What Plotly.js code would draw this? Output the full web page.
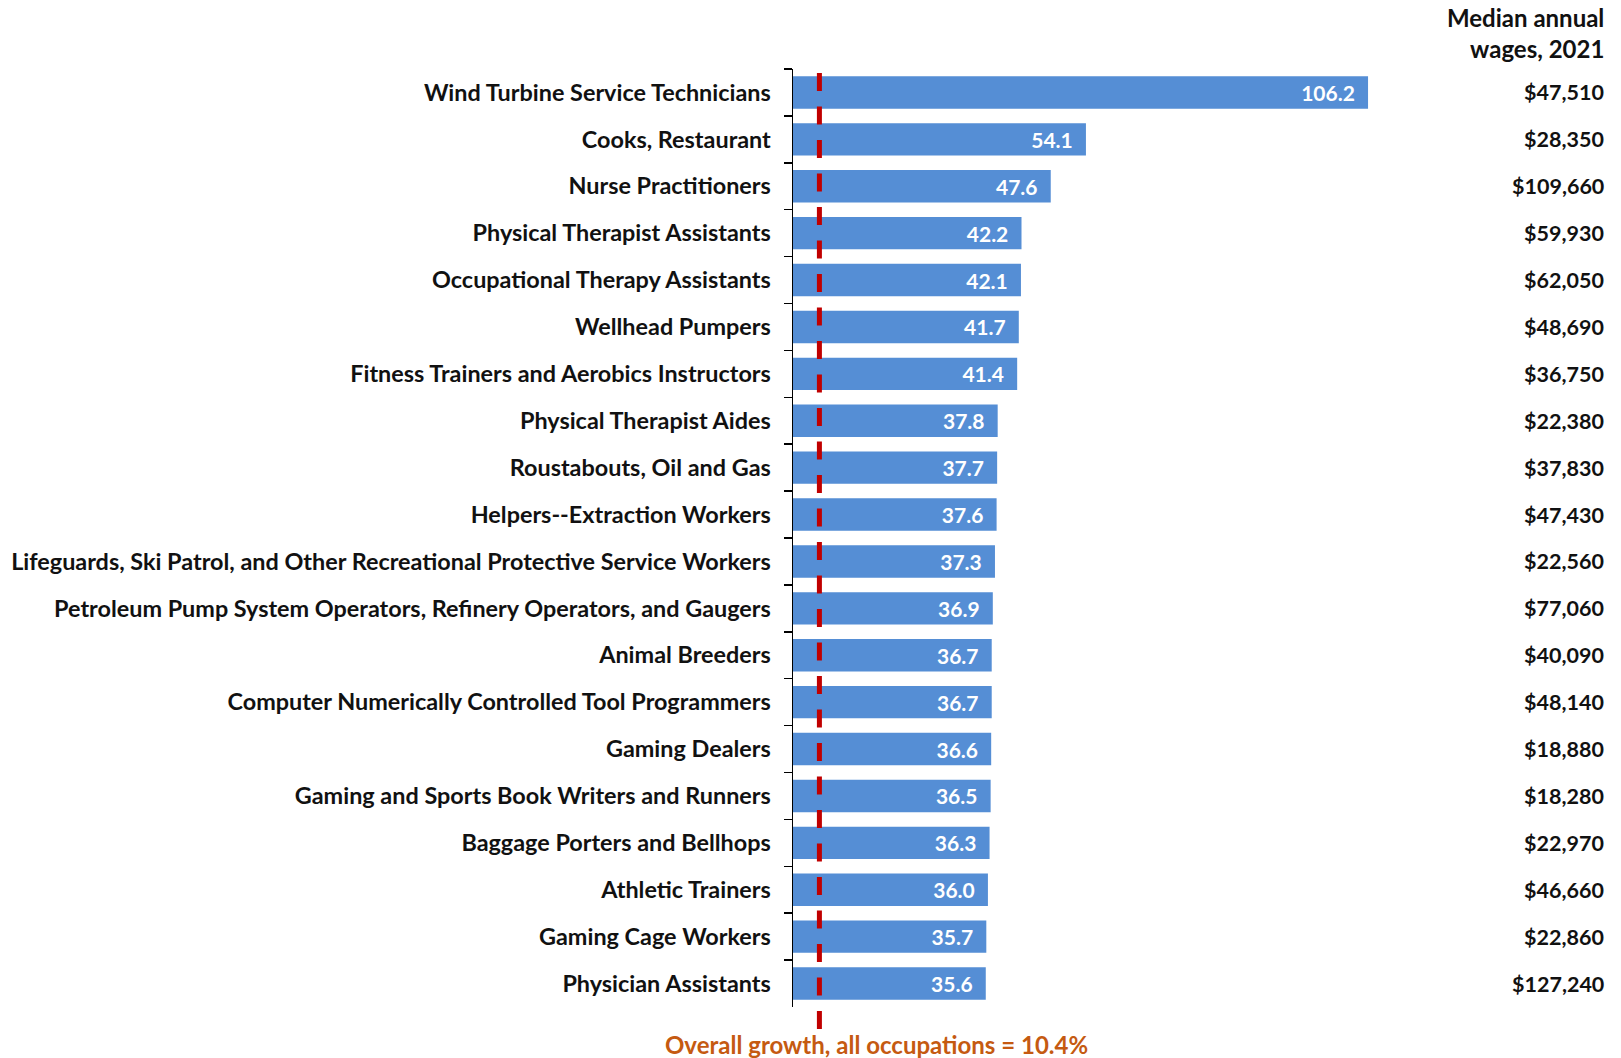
<!DOCTYPE html>
<html>
<head>
<meta charset="utf-8">
<script src="https://cdn.plot.ly/plotly-3.0.1.min.js"></script>
<style>
html,body{margin:0;padding:0;background:#fff;}
#chart{width:1621px;height:1058px;}
</style>
</head>
<body>
<div id="chart"></div>
<script>
const occupations = [
  "Wind Turbine Service Technicians",
  "Cooks, Restaurant",
  "Nurse Practitioners",
  "Physical Therapist Assistants",
  "Occupational Therapy Assistants",
  "Wellhead Pumpers",
  "Fitness Trainers and Aerobics Instructors",
  "Physical Therapist Aides",
  "Roustabouts, Oil and Gas",
  "Helpers--Extraction Workers",
  "Lifeguards, Ski Patrol, and Other Recreational Protective Service Workers",
  "Petroleum Pump System Operators, Refinery Operators, and Gaugers",
  "Animal Breeders",
  "Computer Numerically Controlled Tool Programmers",
  "Gaming Dealers",
  "Gaming and Sports Book Writers and Runners",
  "Baggage Porters and Bellhops",
  "Athletic Trainers",
  "Gaming Cage Workers",
  "Physician Assistants"
];
const growthPct = [106.2, 54.1, 47.6, 42.2, 42.1, 41.7, 41.4, 37.8, 37.7, 37.6, 37.3, 36.9, 36.7, 36.7, 36.6, 36.5, 36.3, 36.0, 35.7, 35.6];
const medianWages = ["$47,510", "$28,350", "$109,660", "$59,930", "$62,050", "$48,690", "$36,750", "$22,380", "$37,830", "$47,430", "$22,560", "$77,060", "$40,090", "$48,140", "$18,880", "$18,280", "$22,970", "$46,660", "$22,860", "$127,240"];
const overallGrowth = 10.4;
const wageHeader = "Median annual<br>wages, 2021";
const overallLabel = "Overall growth, all occupations = " + overallGrowth + "%";

const FONT = "Lato, 'Open Sans', sans-serif";
const PAD = "\u00a0\u00a0";

const trace = {
  type: "bar",
  orientation: "h",
  y: occupations,
  x: growthPct,
  marker: {color: "#558ED5"},
  width: 0.69,
  text: growthPct.map(v => v.toFixed(1) + PAD),
  textposition: "inside",
  insidetextanchor: "end",
  textfont: {family: FONT, size: 21, color: "#ffffff", weight: 700},
  hoverinfo: "x+y",
  cliponaxis: false
};

const annotations = medianWages.map((w, i) => ({
  xref: "paper", yref: "y",
  x: 1.340, y: occupations[i],
  xanchor: "right", yanchor: "middle",
  text: w, showarrow: false,
  font: {family: FONT, size: 21.5, color: "#111111", weight: 700}
}));
annotations.push({
  xref: "paper", yref: "paper",
  x: 1.340, y: 1.073,
  xanchor: "right", yanchor: "top", align: "right",
  text: wageHeader, showarrow: false,
  font: {family: FONT, size: 24, color: "#111111", weight: 700}
});
annotations.push({
  xref: "paper", yref: "paper",
  x: 0.137, y: -0.040,
  xanchor: "center", yanchor: "middle",
  text: overallLabel, showarrow: false,
  font: {family: FONT, size: 24, color: "#C55A11", weight: 700}
});

const layout = {
  width: 1621, height: 1058,
  margin: {l: 793, r: 221, t: 69, b: 51},
  paper_bgcolor: "#ffffff", plot_bgcolor: "#ffffff",
  showlegend: false,
  font: {family: FONT, color: "#111111"},
  xaxis: {
    range: [0, 112.1], showgrid: false, zeroline: false,
    showline: false, showticklabels: false, ticks: "", fixedrange: true
  },
  yaxis: {
    autorange: "reversed", type: "category",
    showline: true, linecolor: "#000000", linewidth: 1.5,
    ticks: "outside", tickson: "boundaries", ticklen: 8, tickcolor: "#000000", tickwidth: 1.5,
    showgrid: false, zeroline: false,
    ticklabelstandoff: 16,
    tickfont: {family: FONT, size: 23.4, color: "#111111", weight: 700}
  },
  shapes: [{
    type: "line", xref: "paper", yref: "paper",
    x0: 0.0435, x1: 0.0435, y0: 0.9957, y1: -0.0235,
    line: {color: "#C00000", width: 5, dash: "18px,15.5px"},
    layer: "above"
  }],
  annotations: annotations
};

Plotly.newPlot("chart", [trace], layout, {displayModeBar: false, staticPlot: true});
</script>
</body>
</html>
